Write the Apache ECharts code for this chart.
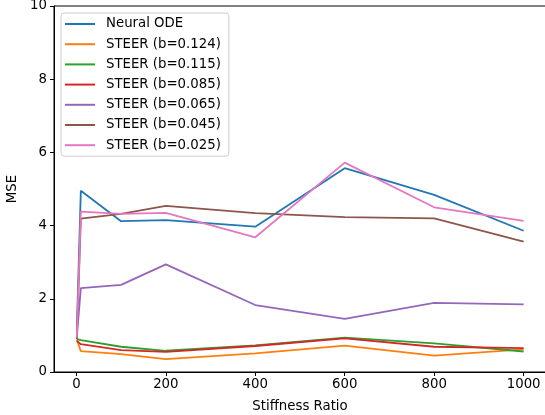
<!DOCTYPE html>
<html>
<head>
<meta charset="utf-8">
<script src="https://cdn.jsdelivr.net/npm/echarts@6/dist/echarts.min.js"></script>
<style>html,body{margin:0;padding:0;background:#fff}#c{width:545px;height:415px}</style>
</head>
<body>
<div id="c"></div>
<script>
const stiffness = [1, 10, 100, 200, 400, 600, 800, 1000];
const xTicks = [0, 200, 400, 600, 800, 1000];
const seriesNames = ['Neural ODE','STEER (b=0.124)','STEER (b=0.115)','STEER (b=0.085)','STEER (b=0.065)','STEER (b=0.045)','STEER (b=0.025)'];
const neuralODE = [1.15, 4.95, 4.12, 4.15, 3.97, 5.57, 4.84, 3.86];
const steer0124 = [0.88, 0.57, 0.49, 0.35, 0.51, 0.72, 0.45, 0.62];
const steer0115 = [0.90, 0.87, 0.69, 0.58, 0.73, 0.94, 0.78, 0.56];
const steer0085 = [0.85, 0.76, 0.60, 0.55, 0.71, 0.92, 0.69, 0.65];
const steer0065 = [0.95, 2.29, 2.38, 2.94, 1.83, 1.45, 1.89, 1.85];
const steer0045 = [0.90, 4.19, 4.32, 4.54, 4.34, 4.23, 4.20, 3.56];
const steer0025 = [0.95, 4.38, 4.32, 4.35, 3.68, 5.72, 4.50, 4.13];
const allValues = [neuralODE, steer0124, steer0115, steer0085, steer0065, steer0045, steer0025];
const colors = ['#1f77b4','#ff7f0e','#2ca02c','#d62728','#9467bd','#8c564b','#e377c2'];

const font = 'DejaVu Sans';
const fs = 13.3;
const chart = echarts.init(document.getElementById('c'), null, {renderer: 'canvas'});
chart.setOption({
  animation: false,
  textStyle: {fontFamily: font},
  grid: {left: 54, top: 6, width: 492, height: 366, containLabel: false, outerBoundsMode: 'none',
         show: true, borderColor: '#000', borderWidth: 1, backgroundColor: 'transparent'},
  xAxis: {
    type: 'value', min: -50, max: 1050,
    name: 'Stiffness Ratio', nameLocation: 'middle', nameGap: 28,
    nameTextStyle: {fontFamily: font, fontSize: fs, color: '#000'},
    axisLine: {show: true, onZero: false, lineStyle: {color: '#000', width: 1}},
    axisTick: {show: true, length: 4, lineStyle: {color: '#000'}, customValues: xTicks},
    axisLabel: {fontFamily: font, fontSize: fs, color: '#000', margin: 6, customValues: xTicks, formatter: v => String(v)},
    splitLine: {show: false}
  },
  yAxis: {
    type: 'value', min: 0, max: 10, interval: 2,
    name: 'MSE', nameLocation: 'middle', nameGap: 33,
    nameTextStyle: {fontFamily: font, fontSize: fs, color: '#000'},
    axisLine: {show: true, onZero: false, lineStyle: {color: '#000', width: 1}},
    axisTick: {show: true, length: 4, lineStyle: {color: '#000'}},
    axisLabel: {fontFamily: font, fontSize: fs, color: '#000', margin: 7, formatter: v => String(v)},
    splitLine: {show: false}
  },
  legend: {
    orient: 'vertical', left: 61, top: 13,
    icon: 'rect', itemWidth: 30, itemHeight: 2, itemGap: 6.2,
    padding: [4, 8, 4, 4],
    borderColor: '#cccccc', borderWidth: 1, borderRadius: 3,
    backgroundColor: 'rgba(255,255,255,0.8)',
    textStyle: {fontFamily: font, fontSize: fs, color: '#000', lineHeight: 14, padding: [0, 0, 0, 6]},
    data: seriesNames
  },
  series: seriesNames.map((n, i) => ({
    name: n, type: 'line', showSymbol: false, symbol: 'none',
    data: stiffness.map((x, j) => [x, allValues[i][j]]),
    lineStyle: {color: colors[i], width: 1.8},
    itemStyle: {color: colors[i]},
    z: 2 + i
  }))
});
</script>
</body>
</html>
